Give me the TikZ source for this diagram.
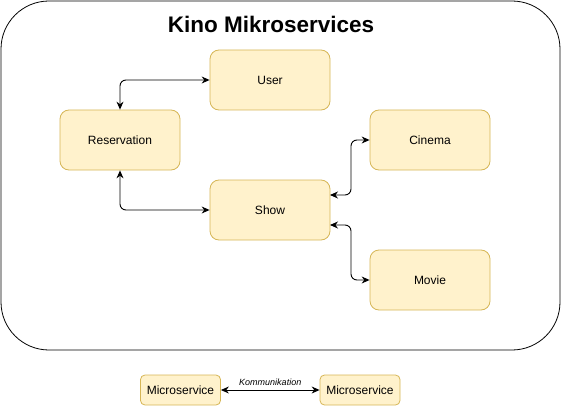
\documentclass[tikz,border=0pt]{standalone}
\usepackage{fontspec}
\setmainfont{Liberation Sans}
\usetikzlibrary{arrows.meta}
\definecolor{boxfill}{HTML}{FFF2CC}
\definecolor{boxline}{HTML}{D6B656}
\begin{document}
\begin{tikzpicture}[x=1pt,y=-1pt,
  svc/.style={draw=boxline,fill=boxfill,rounded corners=9pt,minimum width=120pt,minimum height=60pt,inner sep=0pt,font=\fontsize{12}{14}\selectfont,line width=0.8pt},
  legendbox/.style={draw=boxline,fill=boxfill,rounded corners=4.5pt,minimum width=80pt,minimum height=30pt,inner sep=0pt,font=\fontsize{12}{14}\selectfont,line width=0.8pt},
  conn/.style={line width=0.9pt,rounded corners=6pt,{Stealth[length=8pt,width=7pt]}-{Stealth[length=8pt,width=7pt]}}]
\useasboundingbox (0,0) rectangle (561,406);
\node[draw=black,line width=0.8pt,rounded corners=48pt,minimum width=559pt,minimum height=349pt,inner sep=0pt] (frame) at (280.5,175.5) {};
\node[font=\fontsize{22.5}{26}\selectfont\bfseries] (title) at (271,24) {Kino Mikroservices};
\node[svc] (user) at (270,80) {User};
\node[svc] (res) at (120,140) {Reservation};
\node[svc] (cin) at (430,140) {Cinema};
\node[svc] (show) at (270,210) {Show};
\node[svc] (mov) at (430,280) {Movie};
\coordinate (s1) at (330,195);
\coordinate (s2) at (330,225);
\draw[conn] (res.north) -- (120,80) -- (user.west);
\draw[conn] (res.south) -- (120,210) -- (show.west);
\draw[conn] (s1) -- (351,195) -- (351,140) -- (cin.west);
\draw[conn] (s2) -- (351,225) -- (351,280) -- (mov.west);
\node[legendbox] (l1) at (180.5,390) {Microservice};
\node[legendbox] (l2) at (360,390) {Microservice};
\draw[conn] (l1.east) -- node[above=1pt,font=\fontsize{9}{11}\selectfont\itshape] (komm) {Kommunikation} (l2.west);
\end{tikzpicture}
\end{document}
